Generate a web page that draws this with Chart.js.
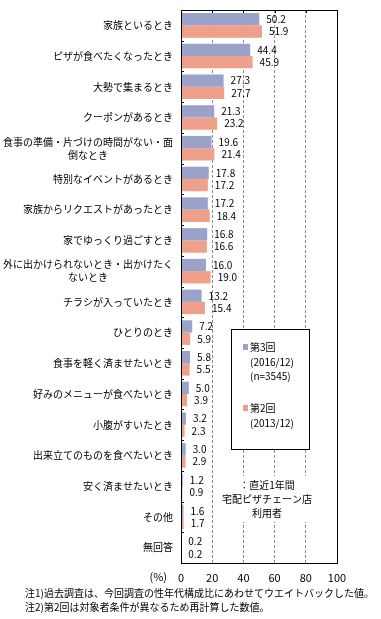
<!DOCTYPE html>
<html>
<head>
<meta charset="utf-8">
<script src="https://cdn.jsdelivr.net/npm/chart.js@4/dist/chart.umd.min.js"></script>
<style>
  html, body { margin: 0; padding: 0; background: #fff; }
  canvas { display: block; }
</style>
</head>
<body>
<canvas id="Chart" width="381" height="619"></canvas>
<script>
// categories (\n = line break in the label)
const categories = [
    '家族といるとき',
    'ピザが食べたくなったとき',
    '大勢で集まるとき',
    'クーポンがあるとき',
    '食事の準備・片づけの時間がない・面\n倒なとき',
    '特別なイベントがあるとき',
    '家族からリクエストがあったとき',
    '家でゆっくり過ごすとき',
    '外に出かけられないとき・出かけたく\nないとき',
    'チラシが入っていたとき',
    'ひとりのとき',
    '食事を軽く済ませたいとき',
    '好みのメニューが食べたいとき',
    '小腹がすいたとき',
    '出来立てのものを食べたいとき',
    '安く済ませたいとき',
    'その他',
    '無回答'
];

// 第3回 (2016/12)
const round3 = [50.2, 44.4, 27.3, 21.3, 19.6, 17.8, 17.2, 16.8, 16.0, 13.2, 7.2, 5.8, 5.0, 3.2, 3.0, 1.2, 1.6, 0.2];
// 第2回 (2013/12)
const round2 = [51.9, 45.9, 27.7, 23.2, 21.4, 17.2, 18.4, 16.6, 19.0, 15.4, 5.9, 5.5, 3.9, 2.3, 2.9, 0.9, 1.7, 0.2];

const seriesNames = ['第3回', '第2回'];
const seriesNotes = [['(2016/12)', '(n=3545)'], ['(2013/12)']];
const seriesColors = ['#9BA2C9', '#EFA08B'];

const xTickStep = 20;
const xMax = 100;
const unitLabel = '(%)';
const respondentNote = ['：直近1年間', '宅配ピザチェーン店', '利用者'];
const footnotes = [
    '注1)過去調査は、今回調査の性年代構成比にあわせてウエイトバックした値。',
    '注2)第2回は対象者条件が異なるため再計算した数値。'
];

const FONT = '"Noto Sans CJK JP", "Noto Sans", sans-serif';
Chart.defaults.font.family = FONT;
Chart.defaults.font.size = 10;
Chart.defaults.color = '#000';

function crisp(v) {
    return Math.round(v) + 0.5;
}

const decorPlugin = {
    id: 'decor',
    afterDraw(chart) {
        const ctx = chart.ctx;
        const area = chart.chartArea;
        const yScale = chart.scales.y;
        const xScale = chart.scales.x;

        ctx.save();
        ctx.fillStyle = '#000';
        ctx.font = '10px ' + FONT;
        ctx.textBaseline = 'middle';

        // category labels: block right-aligned, lines centred in the block
        categories.forEach((lab, i) => {
            const lines = lab.split('\n');
            const yc = yScale.getPixelForValue(i);
            const maxW = Math.max(...lines.map(l => ctx.measureText(l).width));
            const cx = area.left - 8 - maxW / 2;
            ctx.textAlign = 'center';
            lines.forEach((l, j) => {
                ctx.fillText(l, cx, yc + (j - (lines.length - 1) / 2) * 13);
            });
        });

        // value labels
        ctx.textAlign = 'left';
        chart.data.datasets.forEach((ds, di) => {
            chart.getDatasetMeta(di).data.forEach((bar, i) => {
                ctx.fillText(ds.data[i].toFixed(1), bar.x + 7, bar.y);
            });
        });

        // legend box
        const bx = 231, by = 329, bw = 78, bh = 120;
        ctx.fillStyle = '#fff';
        ctx.fillRect(bx, by, bw, bh);
        ctx.strokeStyle = '#000';
        ctx.lineWidth = 1;
        ctx.strokeRect(crisp(bx), crisp(by), bw, bh);

        let ly = 347;
        seriesNames.forEach((name, si) => {
            ctx.fillStyle = seriesColors[si];
            ctx.fillRect(243, ly - 3, 5, 6);
            ctx.fillStyle = '#000';
            ctx.font = '10px ' + FONT;
            ctx.fillText(name, 250, ly);
            seriesNotes[si].forEach((n, k) => {
                ctx.fillText(n, 250, ly + 15 + k * 14);
            });
            ly += 61;
        });

        // respondent note
        ctx.fillStyle = '#fff';
        ctx.fillRect(220, 476, 96, 46);
        ctx.fillStyle = '#000';
        ctx.textAlign = 'center';
        respondentNote.forEach((t, k) => {
            ctx.fillText(t, 267, 485 + k * 14);
        });

        // frame
        ctx.strokeStyle = '#000';
        const L = Math.round(area.left), T = Math.round(area.top);
        const R = Math.round(area.right), B = Math.round(area.bottom);
        ctx.strokeRect(L + 0.5, T + 0.5, R - L, B - T);

        // inward tick marks: category boundaries on the left, x ticks on top
        ctx.beginPath();
        for (let i = 0; i <= categories.length; i++) {
            const y = crisp(yScale.getPixelForValue(i - 0.5));
            ctx.moveTo(L, y);
            ctx.lineTo(L + 3, y);
        }
        for (let v = xTickStep; v < xMax; v += xTickStep) {
            const x = crisp(xScale.getPixelForValue(v));
            ctx.moveTo(x, T);
            ctx.lineTo(x, T + 3);
        }
        ctx.stroke();

        // unit label and footnotes
        ctx.textAlign = 'right';
        ctx.font = '11px ' + FONT;
        ctx.fillText(unitLabel, xScale.left - 14, 577);
        ctx.textAlign = 'left';
        ctx.font = '10px ' + FONT;
        footnotes.forEach((t, k) => {
            ctx.fillText(t, 25, 593 + k * 14);
        });
        ctx.restore();
    }
};

const chartEl = document.getElementById('Chart').getContext('2d');
const chart = new Chart(chartEl, {
    type: 'bar',
    data: {
        labels: categories,
        datasets: [
            {
                label: seriesNames[0],
                data: round3,
                backgroundColor: seriesColors[0],
                borderWidth: 0,
                categoryPercentage: 0.8,
                barPercentage: 1.0
            },
            {
                label: seriesNames[1],
                data: round2,
                backgroundColor: seriesColors[1],
                borderWidth: 0,
                categoryPercentage: 0.8,
                barPercentage: 1.0
            }
        ]
    },
    options: {
        indexAxis: 'y',
        responsive: false,
        animation: false,
        devicePixelRatio: 1,
        layout: {
            padding: { left: 0, top: 10, right: 44, bottom: 36 }
        },
        plugins: {
            legend: { display: false },
            tooltip: { enabled: false },
            title: { display: false }
        },
        scales: {
            x: {
                min: 0,
                max: xMax,
                ticks: {
                    stepSize: xTickStep,
                    padding: 8,
                    font: { size: 11 },
                    color: '#000'
                },
                grid: {
                    color: c => (c.tick.value === 0 || c.tick.value === xMax) ? 'rgba(0,0,0,0)' : '#8c8c8c',
                    drawTicks: false,
                    lineWidth: 1
                },
                border: { color: '#000', dash: [3, 2] },
                afterFit: s => { s.height = 20; }
            },
            y: {
                ticks: { display: false },
                grid: {
                    display: false
                },
                border: { color: '#000' },
                afterFit: s => { s.width = 181; }
            }
        }
    },
    plugins: [decorPlugin]
});
</script>
</body>
</html>
